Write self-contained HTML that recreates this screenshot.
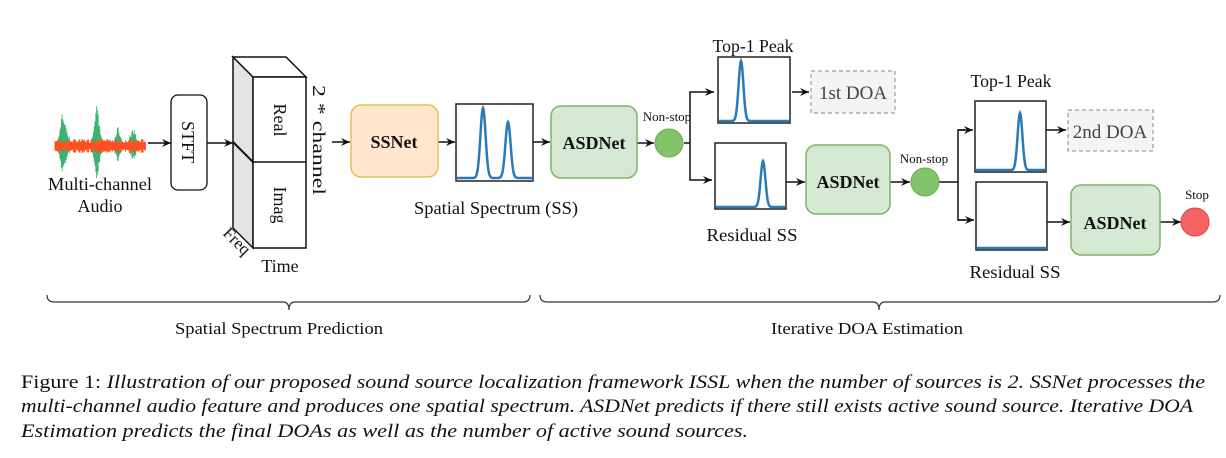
<!DOCTYPE html>
<html><head><meta charset="utf-8"><style>
html,body{margin:0;padding:0;background:#fff;}
svg{display:block;}
text{font-family:"Liberation Serif",serif;fill:#111;}
</style></head><body>
<svg id="s" width="1226" height="458" viewBox="0 0 1226 458" xmlns="http://www.w3.org/2000/svg">
<defs>
<marker id="a" markerWidth="10" markerHeight="10" refX="9" refY="5" orient="auto" markerUnits="userSpaceOnUse">
<path d="M0,1 L9,5 L0,9 L3,5 Z" fill="#111"/></marker>
</defs>
<g id="wave"></g>
<text x="100" y="190" font-size="18" text-anchor="middle" textLength="104" lengthAdjust="spacingAndGlyphs">Multi-channel</text>
<text x="100" y="212" font-size="18" text-anchor="middle">Audio</text>
<g stroke="#111" stroke-width="1.5" fill="none">
<line x1="148" y1="143" x2="171" y2="143" marker-end="url(#a)"/>
<rect x="171" y="95" width="36" height="95" rx="7" stroke-width="1.3"/>
<line x1="207" y1="143" x2="233" y2="143" marker-end="url(#a)"/>
<polygon points="233,57 253,77 253,248 233,228" fill="#e4e4e4"/>
<polygon points="233,57 286,57 306,77 253,77" fill="#fff"/>
<rect x="253" y="77" width="53" height="171" fill="#fff"/>
<line x1="233" y1="142" x2="253" y2="162" stroke-width="2"/>
<line x1="253" y1="162" x2="306" y2="162"/>
<line x1="332" y1="142" x2="350" y2="142" marker-end="url(#a)"/>
<line x1="438" y1="142" x2="455" y2="142" marker-end="url(#a)"/>
<line x1="533" y1="142" x2="550" y2="142" marker-end="url(#a)"/>
<line x1="637" y1="143" x2="654" y2="143" marker-end="url(#a)"/>
<polyline points="684,143 690,143"/>
<polyline points="700,92 690,92 690,180 700,180"/>
<line x1="700" y1="92" x2="714" y2="92" marker-end="url(#a)"/>
<line x1="700" y1="180" x2="712" y2="180" marker-end="url(#a)"/>
<line x1="792" y1="92" x2="809" y2="92" marker-end="url(#a)"/>
<line x1="786" y1="182" x2="805" y2="182" marker-end="url(#a)"/>
<line x1="890" y1="182" x2="910" y2="182" marker-end="url(#a)"/>
<polyline points="938,182 958,182"/>
<polyline points="965,130 958,130 958,220 965,220"/>
<line x1="958" y1="130" x2="973" y2="130" marker-end="url(#a)"/>
<line x1="958" y1="220" x2="974" y2="220" marker-end="url(#a)"/>
<line x1="1046" y1="130" x2="1066" y2="130" marker-end="url(#a)"/>
<line x1="1047" y1="222" x2="1070" y2="222" marker-end="url(#a)"/>
<line x1="1160" y1="222" x2="1181" y2="222" marker-end="url(#a)"/>
</g>
<text transform="translate(182,142) rotate(90)" font-size="18" text-anchor="middle">STFT</text>
<text transform="translate(274,120) rotate(90)" font-size="18" text-anchor="middle">Real</text>
<text transform="translate(274,205) rotate(90)" font-size="18" text-anchor="middle">Imag</text>
<text transform="translate(313,140) rotate(90)" font-size="18" text-anchor="middle" textLength="110" lengthAdjust="spacingAndGlyphs">2 * channel</text>
<text transform="translate(222,234) rotate(45)" font-size="17">Freq</text>
<text x="280" y="272" font-size="18" text-anchor="middle">Time</text>
<rect x="351" y="105" width="87" height="72" rx="10" fill="#ffe6cc" stroke="#e6bf59" stroke-width="1.5"/>
<text x="394" y="148" font-size="18" font-weight="bold" text-anchor="middle">SSNet</text>
<rect x="456" y="104" width="77" height="77" fill="#fff" stroke="#222" stroke-width="1.5"/>
<path id="p1" fill="none" stroke="#2a7ab8" stroke-width="2.5"/>
<text x="496" y="214" font-size="18" text-anchor="middle" textLength="164" lengthAdjust="spacingAndGlyphs">Spatial Spectrum (SS)</text>
<rect x="551" y="106" width="86" height="72" rx="10" fill="#d5e8d4" stroke="#82b366" stroke-width="1.5"/>
<text x="594" y="149" font-size="18" font-weight="bold" text-anchor="middle">ASDNet</text>
<circle cx="669" cy="143" r="14" fill="#83c46a" stroke="#6aab52"/>
<text x="667" y="121" font-size="13" text-anchor="middle">Non-stop</text>
<text x="753" y="52" font-size="18" text-anchor="middle" textLength="81" lengthAdjust="spacingAndGlyphs">Top-1 Peak</text>
<rect x="718" y="57" width="72" height="66" fill="#fff" stroke="#222" stroke-width="1.5"/>
<path id="p2" fill="none" stroke="#2a7ab8" stroke-width="2.5"/>
<rect x="811" y="71" width="84" height="42" fill="#f4f4f4" stroke="#888" stroke-dasharray="4,3"/>
<text x="853" y="99" font-size="19" text-anchor="middle" style="fill:#444">1st DOA</text>
<rect x="715" y="143" width="71" height="66" fill="#fff" stroke="#222" stroke-width="1.5"/>
<path id="p3" fill="none" stroke="#2a7ab8" stroke-width="2.5"/>
<text x="752" y="241" font-size="18" text-anchor="middle" textLength="91" lengthAdjust="spacingAndGlyphs">Residual SS</text>
<rect x="806" y="145" width="84" height="69" rx="10" fill="#d5e8d4" stroke="#82b366" stroke-width="1.5"/>
<text x="848" y="188" font-size="18" font-weight="bold" text-anchor="middle">ASDNet</text>
<circle cx="925" cy="182" r="14" fill="#83c46a" stroke="#6aab52"/>
<text x="924" y="163" font-size="13" text-anchor="middle">Non-stop</text>
<text x="1011" y="87" font-size="18" text-anchor="middle" textLength="81" lengthAdjust="spacingAndGlyphs">Top-1 Peak</text>
<rect x="975" y="101" width="71" height="71" fill="#fff" stroke="#222" stroke-width="1.5"/>
<path id="p4" fill="none" stroke="#2a7ab8" stroke-width="2.5"/>
<rect x="1068" y="110" width="85" height="41" fill="#f4f4f4" stroke="#888" stroke-dasharray="4,3"/>
<text x="1110" y="138" font-size="19" text-anchor="middle" style="fill:#444">2nd DOA</text>
<rect x="976" y="182" width="71" height="68" fill="#fff" stroke="#222" stroke-width="1.5"/>
<line x1="977" y1="248" x2="1046" y2="248" stroke="#2a7ab8" stroke-width="2.5"/>
<text x="1015" y="278" font-size="18" text-anchor="middle" textLength="91" lengthAdjust="spacingAndGlyphs">Residual SS</text>
<rect x="1071" y="185" width="89" height="70" rx="10" fill="#d5e8d4" stroke="#82b366" stroke-width="1.5"/>
<text x="1115" y="229" font-size="18" font-weight="bold" text-anchor="middle">ASDNet</text>
<circle cx="1195" cy="222" r="14" fill="#f46464" stroke="#d44"/>
<text x="1197" y="199" font-size="13" text-anchor="middle">Stop</text>
<g fill="none" stroke="#333" stroke-width="1.2">
<path d="M47,295 Q47,302 54,302 L283,302 Q289,302 289,310 Q289,302 295,302 L523,302 Q530,302 530,295"/>
<path d="M540,295 Q540,302 547,302 L873,302 Q879,302 879,310 Q879,302 885,302 L1213,302 Q1220,302 1220,295"/>
</g>
<text x="279" y="334" font-size="17" text-anchor="middle" textLength="208" lengthAdjust="spacingAndGlyphs">Spatial Spectrum Prediction</text>
<text x="867" y="334" font-size="17" text-anchor="middle" textLength="192" lengthAdjust="spacingAndGlyphs">Iterative DOA Estimation</text>
<g font-size="19">
<text x="21" y="388" textLength="1184" lengthAdjust="spacingAndGlyphs">Figure 1: <tspan font-style="italic">Illustration of our proposed sound source localization framework ISSL when the number of sources is 2. SSNet processes the</tspan></text>
<text x="21" y="412" font-style="italic" textLength="1172" lengthAdjust="spacingAndGlyphs">multi-channel audio feature and produces one spatial spectrum. ASDNet predicts if there still exists active sound source. Iterative DOA</text>
<text x="21" y="437" font-style="italic" textLength="727" lengthAdjust="spacingAndGlyphs">Estimation predicts the final DOAs as well as the number of active sound sources.</text>
</g>
</svg>
<script>
function peak(x0,x1,yb,peaks){var d="";for(var x=x0;x<=x1;x+=0.5){var y=yb;peaks.forEach(function(p){y-=p[2]*Math.exp(-Math.pow((x-p[0])/p[1],2)/2);});d+=(x==x0?"M":"L")+x.toFixed(1)+","+y.toFixed(1);}return d;}
document.getElementById("p1").setAttribute("d",peak(457,532,178,[[483,2.6,70],[508,2.6,56]]));
document.getElementById("p2").setAttribute("d",peak(719,789,121,[[741,2.4,60]]));
document.getElementById("p3").setAttribute("d",peak(716,785,207,[[763,2.4,46]]));
document.getElementById("p4").setAttribute("d",peak(976,1045,170,[[1020,2.4,57]]));
var g=document.getElementById("wave"),s=7,r=function(){s=(s*9301+49297)%233280;return s/233280;};
var spk=[[62,28],[66,16],[96,34],[98,22],[118,18],[133,18]];
var gd="",od="";
for(var x=55;x<=146;x+=0.8){var a=2+r()*3;spk.forEach(function(p){var d=Math.abs(x-p[0]);if(d<5)a+=p[1]*(1-d/5)*(0.5+r()*0.5);});gd+="M"+x.toFixed(1)+","+(146-a)+"V"+(146+a*0.8);
var b=3+r()*4;od+="M"+x.toFixed(1)+","+(146-b)+"V"+(146+b);}
g.innerHTML='<path d="'+gd+'" stroke="#3cb371" stroke-width="0.8"/><path d="'+od+'" stroke="#ff5022" stroke-width="1"/>';
</script>
</body></html>
